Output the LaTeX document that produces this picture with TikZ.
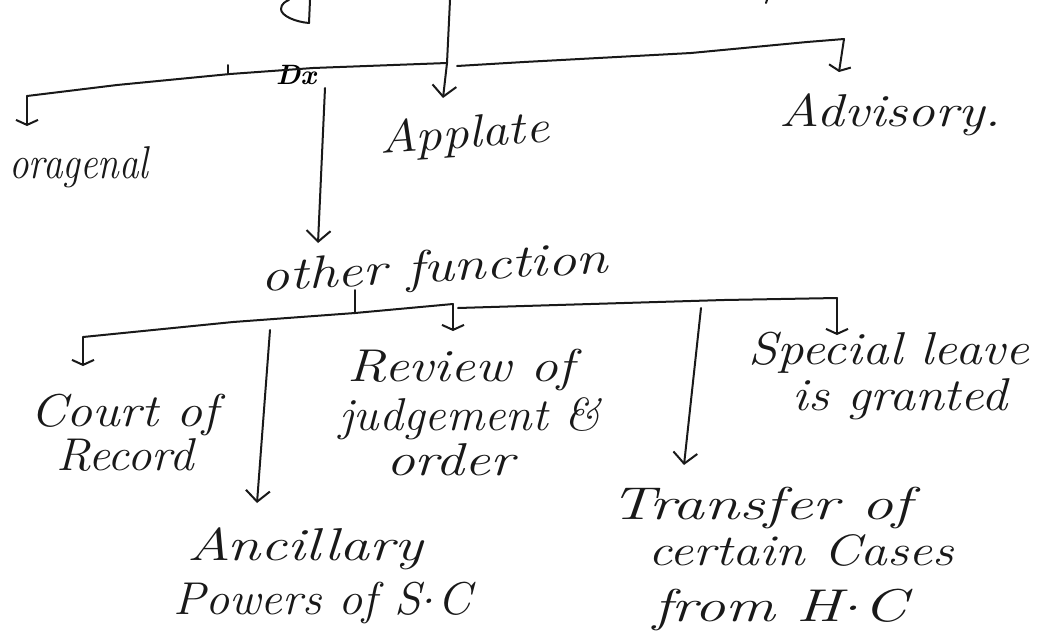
\documentclass[tikz,border=0pt]{standalone}
\usetikzlibrary{arrows.meta}
\newcommand{\mdot}{\kern1pt\raisebox{0.22em}{.}\kern1pt}
\begin{document}
\begin{tikzpicture}[x=1pt,y=-1pt,
  ink/.style={draw=black!90, line width=2pt, line cap=round, line join=round},
  hook/.style={ink, -{Straight Barb[length=5pt,width=22pt,line width=2pt]}},
  vee/.style={ink, -{Straight Barb[length=11pt,width=24pt,line width=2pt]}},
  hand/.style={font=\fontsize{46}{50}\selectfont\itshape, inner sep=0pt, anchor=base, text=black!90}]
\useasboundingbox[fill=white] (0,0) rectangle (1048,643);

% partial strokes of text cut off at the top
\draw[ink] (310,0) -- (309,23) .. controls (296,22) and (281,16) .. (281,9) .. controls (281,4) and (286,1) .. (289,0);
\draw[ink] (767,0) -- (766,3);

% level 1 junction coordinates
\coordinate (top) at (450,0);
\coordinate (j1) at (447,63);
\coordinate (mL) at (27,96);
\coordinate (mR) at (844,39);
\coordinate (tOrag) at (27,126);
\coordinate (tAppl) at (443,98);
\coordinate (tAdv) at (839,72);
\coordinate (sOther) at (325,88);
\coordinate (tOther) at (318,243);

% level 1 texts
\node[hand, xscale=0.85] (orag) at (79,178) {oragenal};
\node[hand, rotate=4, xscale=1.15] (appl) at (465,148) {Applate};
\node[hand, xscale=1.2] (adv) at (890,126) {Advisory.};
\node[hand, rotate=3, xscale=1.25] (other) at (435,282) {other function};
\node[font=\fontsize{28}{28}\selectfont\bfseries\itshape, inner sep=0pt] (dx) at (296,75) {Dx};

% level 1 connectors
\draw[ink] (top) -- (j1);
\draw[vee] (j1) -- (tAppl);
\draw[ink] (j1) -- (313,68) -- (230,74) -- (117,85) -- (mL);
\draw[hook] (mL) -- (tOrag);
\draw[ink] (457,66) -- (524,62) -- (691,53) -- (807,42) -- (mR);
\draw[hook] (mR) -- (tAdv);
\draw[ink] (228,65) -- (228,73);
\draw[vee] (sOther) -- (tOther);

% level 2 coordinates
\coordinate (k0) at (355,290);
\coordinate (k1) at (355,313);
\coordinate (kL) at (83,337);
\coordinate (kM) at (453,304);
\coordinate (kR) at (837,298);
\coordinate (tCourt) at (83,366);
\coordinate (tRev) at (453,331);
\coordinate (tSpec) at (837,335);
\coordinate (sAnc) at (270,330);
\coordinate (tAnc) at (257,503);
\coordinate (sTr) at (701,308);
\coordinate (tTr) at (684,465);

% level 2 texts
\node[hand, xscale=1.13] (court) at (124,426) {Court of};
\node[hand, xscale=1.06] (court2) at (125,470) {Record};
\node[hand, xscale=1.2] (rev) at (461,381) {Review of};
\node[hand, xscale=1.04] (rev2) at (470,430) {judgement \&};
\node[hand, xscale=1.25] (rev3) at (450,475) {order};
\node[hand, xscale=1.15] (spec) at (889,364) {Special leave};
\node[hand, xscale=1.13] (spec2) at (900,410) {is granted};
\node[hand, xscale=1.3] (anc) at (305,560) {Ancillary};
\node[hand, xscale=1.05] (anc2) at (322,614) {Powers of S\mdot C};
\node[hand, xscale=1.38] (tr) at (761,519) {Transfer of};
\node[hand, xscale=1.21, font=\fontsize{44}{48}\selectfont\itshape] (tr2) at (801,565) {certain Cases};
\node[hand, xscale=1.35] (tr3) at (780,621) {from H\mdot C};

% level 2 connectors
\draw[ink] (k0) -- (k1);
\draw[ink] (kM) -- (k1) -- (233,322) -- (kL);
\draw[hook] (kL) -- (tCourt);
\draw[hook] (kM) -- (tRev);
\draw[ink] (458,308) -- (524,306) -- (724,300) -- (kR);
\draw[hook] (kR) -- (tSpec);
\draw[vee] (sAnc) -- (tAnc);
\draw[vee] (sTr) -- (tTr);
\end{tikzpicture}
\end{document}
